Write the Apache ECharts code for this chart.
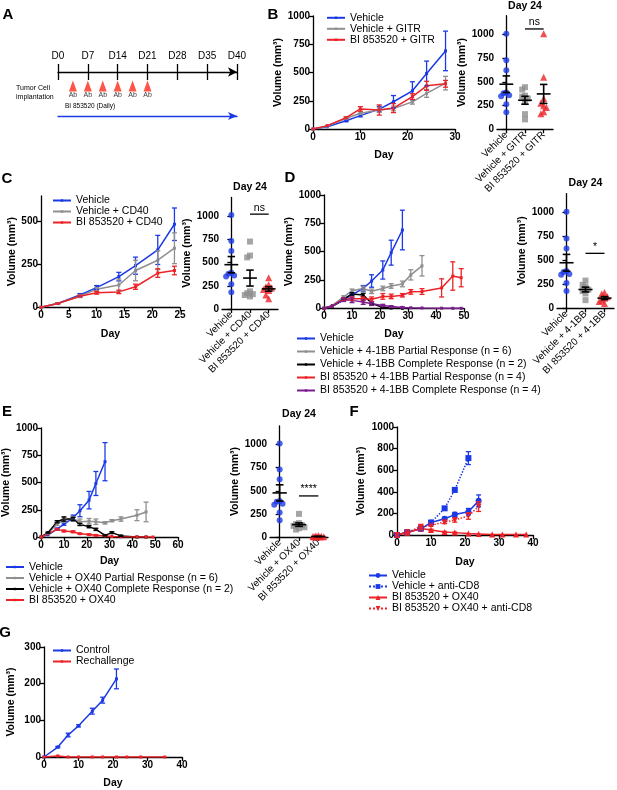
<!DOCTYPE html>
<html>
<head>
<meta charset="utf-8">
<script src="https://cdn.jsdelivr.net/npm/echarts@6/dist/echarts.min.js"></script>
<style>
html, body { margin: 0; padding: 0; background: #fff; }
#chart { width: 617px; height: 790px; }
</style>
</head>
<body>
<div id="chart"></div>
<script>
// ---------- data ----------
// A: schedule
var aTickDays = [0, 7, 14, 21, 28, 35, 42];
var aTickLabels = ['D0', 'D7', 'D14', 'D21', 'D28', 'D35', 'D40'];
var abDays = [3.5, 7, 10.5, 14, 17.5, 21];

// shared vehicle group
var vehDays = [0, 3, 7, 10, 14, 17, 21, 24, 28];
var vehVol  = [0, 20, 73, 118, 176, 241, 338, 491, 691];
var vehErr  = [0, 3, 8, 10, 25, 55, 80, 110, 175];

// B
var gitrVol = [0, 25, 95, 140, 168, 182, 240, 315, 406];
var gitrErr = [0, 3, 8, 12, 20, 20, 20, 35, 60];
var biGitrVol = [0, 30, 100, 178, 168, 185, 287, 382, 400];
var biGitrErr = [0, 3, 8, 20, 45, 40, 25, 40, 30];

// C
var cDays = [0, 3, 7, 10, 14, 17, 21, 24];
var cVehVol = [0, 22, 72, 115, 179, 243, 335, 485];
var cVehErr = [0, 3, 8, 12, 25, 50, 85, 95];
var cd40Vol = [0, 22, 65, 105, 130, 215, 275, 345];
var cd40Err = [0, 3, 8, 10, 35, 60, 55, 90];
var biCd40Vol = [0, 22, 65, 85, 90, 120, 200, 215];
var biCd40Err = [0, 3, 5, 8, 10, 15, 25, 25];

// D
var dGrayDays = [0, 3, 7, 10, 14, 17, 21, 24, 28, 31, 35];
var dGrayVol  = [0, 25, 100, 155, 175, 150, 175, 197, 215, 295, 375];
var dGrayErr  = [0, 3, 10, 15, 20, 20, 20, 20, 25, 45, 90];
var dBlackDays = [0, 3, 7, 10, 14, 17, 21, 24, 28];
var dBlackVol  = [0, 20, 80, 127, 118, 44, 6, 2, 0];
var dBlackErr  = [0, 2, 8, 10, 15, 15, 5, 0, 0];
var dBiDays = [0, 3, 7, 10, 14, 17, 21, 24, 28, 31, 35, 42, 46, 49];
var dRedVol = [0, 20, 80, 85, 85, 80, 105, 105, 115, 145, 148, 180, 285, 270];
var dRedErr = [0, 3, 10, 15, 15, 20, 25, 20, 15, 20, 25, 80, 125, 80];
var dPurVol = [0, 20, 75, 70, 55, 40, 25, 15, 8, 5, 3, 1, 0, 0];
var dPurErr = [0, 3, 15, 20, 20, 15, 10, 8, 5, 3, 2, 1, 0, 0];

// E
var eGrayDays = [0, 3, 7, 10, 14, 17, 21, 24, 28, 31, 35, 42, 46];
var eGrayVol  = [0, 35, 120, 155, 165, 140, 145, 140, 130, 150, 165, 200, 230];
var eGrayErr  = [0, 5, 15, 20, 20, 25, 25, 25, 10, 10, 20, 50, 90];
var eBlackVol = [0, 40, 140, 165, 165, 115, 95, 70, 15, 40, 10, 0, 0];
var eBlackErr = [0, 5, 10, 20, 15, 10, 10, 10, 5, 8, 5, 0, 0];
var eRedDays = [0, 3, 7, 10, 14, 17, 21, 24, 28, 31, 35, 42, 46, 49];
var eRedVol  = [0, 30, 70, 55, 48, 30, 22, 15, 10, 5, 3, 1, 0, 0];
var eRedErr  = [0, 3, 8, 8, 8, 5, 5, 5, 3, 2, 2, 1, 0, 0];

// F
var fVehDays = [0, 3, 7, 10, 14, 17, 21, 24];
var fVehVol  = [0, 28, 56, 115, 150, 189, 216, 316];
var fVehErr  = [0, 5, 8, 10, 15, 20, 30, 55];
var fCd8Days = [0, 3, 7, 10, 14, 17, 21];
var fCd8Vol  = [0, 25, 60, 115, 247, 418, 712];
var fCd8Err  = [0, 5, 8, 10, 15, 20, 60];
var fBiDays = [0, 3, 7, 10, 14, 17, 21, 24, 28, 31, 35, 38];
var fBiVol  = [0, 20, 60, 46, 28, 22, 14, 10, 5, 5, 5, 5];
var fBiErr  = [0, 5, 8, 8, 5, 5, 3, 3, 2, 2, 2, 2];
var fBiCd8Days = [0, 3, 7, 10, 14, 17, 21, 24];
var fBiCd8Vol  = [0, 25, 77, 90, 120, 139, 176, 263];
var fBiCd8Err  = [0, 5, 10, 10, 15, 20, 30, 45];

// G
var gCtrlDays = [0, 4, 7, 10, 14, 17, 21];
var gCtrlVol  = [0, 27, 60, 85, 125, 155, 213];
var gCtrlErr  = [0, 2, 5, 3, 8, 8, 27];
var gReDays = [0, 4, 7, 10, 14, 17, 21, 24, 28, 35];
var gReVol  = [0, 3, 0, 0, 0, 0, 0, 0, 0, 0];
var gReErr  = [0, 1, 0, 0, 0, 0, 0, 0, 0, 0];

// Day 24 individual tumours
var day24Veh   = [1010, 730, 625, 390, 380, 360, 350, 265, 180];
var day24Gitr  = [445, 420, 355, 345, 325, 300, 160, 105];
var day24BiGitr = [1010, 550, 325, 275, 250, 230, 185, 165];
var day24Cd40  = [725, 575, 555, 190, 170, 160, 150, 135];
var day24BiCd40 = [335, 260, 240, 225, 210, 200, 150, 110];
var day24_41bb = [290, 245, 225, 195, 180, 155, 85];
var day24Bi41bb = [165, 150, 120, 105, 85, 70, 50];
var day24Ox40  = [250, 150, 140, 130, 120, 105, 95, 80];
var day24BiOx40 = [15, 10, 8, 5, 3, 2, 0, 0];

var tick1000 = [0, 250, 500, 750, 1000];
var tick500 = [0, 250, 500];
var tickF = [0, 200, 400, 600, 800, 1000];
var tickG = [0, 100, 200, 300];

// ---------- helpers ----------
var FONT = '"Liberation Sans", Arial, sans-serif';
var BLUE = '#1b3ae6', GRAY = '#8f8f8f', RED = '#ec2227', BLACK = '#000000', PURPLE = '#7a1d8e';

var grids = [], xAxes = [], yAxes = [], series = [], legends = [], graphics = [];
var axLine = { show: true, lineStyle: { color: '#000', width: 1.3 } };
var axTick = { show: true, length: 4, lineStyle: { color: '#000', width: 1.3 } };
var numLabel = { color: '#000', fontSize: 10, fontWeight: 'bold', fontFamily: FONT, margin: 3,
  formatter: function (v) { return String(v); } };
var nameStyle = { color: '#000', fontSize: 10.5, fontWeight: 'bold', fontFamily: FONT };

function ext(a, b) { return Object.assign({}, a, b); }

function volAxis(gi, max, ticks, gap) {
  return {
    gridIndex: gi, type: 'value', min: 0, max: max,
    name: 'Volume (mm³)', nameLocation: 'middle', nameGap: gap, nameTextStyle: nameStyle,
    axisLine: axLine, axisTick: ext(axTick, { customValues: ticks }),
    axisLabel: ext(numLabel, { customValues: ticks }), splitLine: { show: false }
  };
}

function linePanel(b) {
  var gi = grids.length;
  grids.push({ left: b.left, top: b.top, width: b.width, height: b.height });
  xAxes.push({
    gridIndex: gi, type: 'value', min: 0, max: b.xMax, interval: b.xStep,
    name: 'Day', nameLocation: 'middle', nameGap: b.xGap, nameTextStyle: nameStyle,
    axisLine: axLine, axisTick: axTick, axisLabel: numLabel, splitLine: { show: false }
  });
  yAxes.push(volAxis(gi, b.yMax, b.yTicks, b.yGap));
  return { x: xAxes.length - 1, y: yAxes.length - 1 };
}

function errSeries(ax, days, vals, errs, color) {
  return {
    type: 'custom', xAxisIndex: ax.x, yAxisIndex: ax.y, silent: true, z: 3,
    data: days.map(function (d, i) { return [d, Math.max(0, vals[i] - errs[i]), vals[i] + errs[i]]; }),
    renderItem: function (p, api) {
      var lo = api.coord([api.value(0), api.value(1)]);
      var hi = api.coord([api.value(0), api.value(2)]);
      if (lo[1] - hi[1] < 1) return;
      var w = 2.5, st = { stroke: color, lineWidth: 1.3 };
      return { type: 'group', children: [
        { type: 'line', shape: { x1: lo[0], y1: lo[1], x2: hi[0], y2: hi[1] }, style: st },
        { type: 'line', shape: { x1: lo[0] - w, y1: lo[1], x2: lo[0] + w, y2: lo[1] }, style: st },
        { type: 'line', shape: { x1: hi[0] - w, y1: hi[1], x2: hi[0] + w, y2: hi[1] }, style: st }
      ] };
    }
  };
}

function addLine(ax, key, name, days, vals, errs, st) {
  series.push({
    type: 'line', name: key + '|' + name, xAxisIndex: ax.x, yAxisIndex: ax.y, z: 2,
    data: days.map(function (d, i) { return [d, vals[i]]; }),
    symbol: st.symbol || 'rect', symbolSize: st.size || 3, symbolRotate: st.rotate || 0,
    showAllSymbol: true,
    lineStyle: { color: st.color, width: 1.5, type: st.dash || 'solid' },
    itemStyle: { color: st.color }
  });
  series.push(errSeries(ax, days, vals, errs, st.color));
}

function addLegend(key, names, left, top, lh, iconH) {
  legends.push({
    data: names.map(function (n) { return key + '|' + n; }),
    orient: 'vertical', left: left, top: top, padding: 0, itemGap: 0,
    itemWidth: 18, itemHeight: iconH || 3, selectedMode: false,
    textStyle: { fontSize: 10.5, fontFamily: FONT, color: '#000', lineHeight: lh },
    formatter: function (n) { return n.split('|')[1]; }
  });
}

function mean(a) { return a.reduce(function (s, v) { return s + v; }, 0) / a.length; }
function sem(a) {
  var m = mean(a);
  var sd = Math.sqrt(a.reduce(function (s, v) { return s + (v - m) * (v - m); }, 0) / (a.length - 1));
  return sd / Math.sqrt(a.length);
}
function swarm(vals) {
  var offs = [0, -0.15, 0.15, -0.28, 0.28, -0.08, 0.08, -0.22, 0.22];
  var placed = [];
  return vals.map(function (v) {
    var near = placed.filter(function (p) { return Math.abs(p.v - v) < 55; }).map(function (p) { return p.o; });
    var o = offs.find(function (c) { return near.indexOf(c) < 0; });
    if (o === undefined) o = 0;
    placed.push({ v: v, o: o });
    return o;
  });
}

function dotPanel(b, cats, groups, sig) {
  var gi = grids.length;
  grids.push({ left: b.left, top: b.top, width: b.width, height: b.height });
  xAxes.push({
    gridIndex: gi, type: 'category', data: cats,
    axisLine: axLine, axisTick: ext(axTick, { alignWithLabel: true }),
    axisLabel: { rotate: 45, interval: 0, color: '#000', fontSize: 10, fontFamily: FONT, margin: 4 }
  });
  xAxes.push({ gridIndex: gi, type: 'value', min: -0.5, max: cats.length - 0.5, show: false });
  var xv = xAxes.length - 1;
  yAxes.push(volAxis(gi, 1200, tick1000, b.yGap));
  var yi = yAxes.length - 1;
  groups.forEach(function (g, ci) {
    var offs = swarm(g.vals);
    series.push({
      type: 'scatter', xAxisIndex: xv, yAxisIndex: yi, z: 2,
      symbol: g.symbol, symbolSize: g.size, itemStyle: { color: g.color },
      data: g.vals.map(function (v, k) { return [ci + offs[k], v]; })
    });
  });
  series.push({
    type: 'custom', xAxisIndex: xv, yAxisIndex: yi, z: 4, silent: true,
    data: groups.map(function (g, ci) { var m = mean(g.vals), s = sem(g.vals); return [ci, m, m - s, m + s]; }),
    renderItem: function (p, api) {
      var x = api.value(0);
      var c = api.coord([x, api.value(1)]), lo = api.coord([x, api.value(2)]), hi = api.coord([x, api.value(3)]);
      var half = api.size([0.37, 0])[0], cap = api.size([0.2, 0])[0];
      var st = { stroke: '#000', lineWidth: 1.6 };
      return { type: 'group', children: [
        { type: 'line', shape: { x1: c[0] - half, y1: c[1], x2: c[0] + half, y2: c[1] }, style: st },
        { type: 'line', shape: { x1: lo[0], y1: lo[1], x2: hi[0], y2: hi[1] }, style: st },
        { type: 'line', shape: { x1: lo[0] - cap, y1: lo[1], x2: lo[0] + cap, y2: lo[1] }, style: st },
        { type: 'line', shape: { x1: hi[0] - cap, y1: hi[1], x2: hi[0] + cap, y2: hi[1] }, style: st }
      ] };
    }
  });
  series.push({
    type: 'custom', xAxisIndex: xv, yAxisIndex: yi, z: 4, silent: true,
    data: [[1, 2, b.sigY]],
    renderItem: function (p, api) {
      var a = api.coord([api.value(0), api.value(2)]), e = api.coord([api.value(1), api.value(2)]);
      return { type: 'group', children: [
        { type: 'line', shape: { x1: a[0], y1: a[1], x2: e[0], y2: e[1] }, style: { stroke: '#000', lineWidth: 1.3 } },
        { type: 'text', x: (a[0] + e[0]) / 2, y: a[1] - 1,
          style: { text: sig, textAlign: 'center', textVerticalAlign: 'bottom', fontSize: 10.5, fontFamily: FONT, fill: '#000' } }
      ] };
    }
  });
  graphics.push({ type: 'text', x: b.left + b.width / 2, y: b.titleY,
    style: { text: 'Day 24', textAlign: 'center', textVerticalAlign: 'middle', fontSize: 10.5, fontWeight: 'bold', fontFamily: FONT, fill: '#000' } });
}

// ---------- panel A: schedule ----------
var giA = grids.length;
grids.push({ left: 58, top: 72, width: 179, height: 40 });
xAxes.push({
  gridIndex: giA, type: 'value', position: 'top', min: 0, max: 42,
  axisLine: { show: true, symbol: ['none', 'arrow'], symbolSize: [7, 9], lineStyle: { color: '#000', width: 1.3 } },
  axisTick: { show: true, inside: true, length: 8, customValues: aTickDays, lineStyle: { color: '#000', width: 1.3 } },
  axisLabel: { customValues: aTickDays, formatter: function (v) { return aTickLabels[aTickDays.indexOf(v)]; },
    color: '#000', fontSize: 10, fontFamily: FONT, margin: 11 },
  splitLine: { show: false }
});
var axA = xAxes.length - 1;
xAxes.push({
  gridIndex: giA, type: 'value', position: 'top', min: 0, max: 42,
  axisLine: { show: false },
  axisTick: { show: true, inside: false, length: 8, customValues: aTickDays, lineStyle: { color: '#000', width: 1.3 } },
  axisLabel: { show: false }, splitLine: { show: false }
});
yAxes.push({ gridIndex: giA, type: 'value', min: 0, max: 40, inverse: true, show: false });
var ayA = yAxes.length - 1;
series.push({
  type: 'scatter', xAxisIndex: axA, yAxisIndex: ayA, symbol: 'triangle', symbolSize: [8, 11],
  itemStyle: { color: '#ff2a1a' },
  label: { show: true, position: 'bottom', distance: 0, formatter: 'Ab', fontSize: 7, fontFamily: FONT, color: '#000' },
  data: abDays.map(function (d) { return [d, 14]; })
});
var giA2 = grids.length;
grids.push({ left: 58, top: 115, width: 179, height: 1 });
xAxes.push({
  gridIndex: giA2, type: 'value', position: 'top', min: 0, max: 42,
  axisLine: { show: true, symbol: ['none', 'arrow'], symbolSize: [6, 9], lineStyle: { color: '#1b3ae6', width: 1.3 } },
  axisTick: { show: false }, axisLabel: { show: false }, splitLine: { show: false }
});
yAxes.push({ gridIndex: giA2, type: 'value', show: false });
graphics.push({ type: 'text', x: 16, y: 84,
  style: { text: 'Tumor Cell\nimplantation', fontSize: 7, lineHeight: 9, fontFamily: FONT, fill: '#000' } });
graphics.push({ type: 'text', x: 65, y: 103,
  style: { text: 'BI 853520 (Daily)', fontSize: 6.5, fontFamily: FONT, fill: '#000' } });

// ---------- panel B ----------
var axB = linePanel({ left: 313, top: 16, width: 142, height: 113, xMax: 30, xStep: 10, yMax: 1000, yTicks: tick1000, yGap: 27, xGap: 21 });
addLine(axB, 'B', 'Vehicle', vehDays, vehVol, vehErr, { color: BLUE });
addLine(axB, 'B', 'Vehicle + GITR', vehDays, gitrVol, gitrErr, { color: GRAY });
addLine(axB, 'B', 'BI 853520 + GITR', vehDays, biGitrVol, biGitrErr, { color: RED });
addLegend('B', ['Vehicle', 'Vehicle + GITR', 'BI 853520 + GITR'], 326, 12.3, 10);
dotPanel({ left: 497, top: 15.7, width: 56, height: 113.6, yGap: 25, sigY: 1060, titleY: 6 },
  ['Vehicle', 'Vehicle + GITR', 'BI 853520 + GITR'],
  [{ vals: day24Veh, color: BLUE, symbol: 'circle', size: 6 },
   { vals: day24Gitr, color: GRAY, symbol: 'rect', size: 6 },
   { vals: day24BiGitr, color: RED, symbol: 'triangle', size: 7 }], 'ns');

// ---------- panel C ----------
var axC = linePanel({ left: 41, top: 196, width: 139, height: 111.3, xMax: 25, xStep: 5, yMax: 650, yTicks: tick500, yGap: 23, xGap: 21 });
addLine(axC, 'C', 'Vehicle', cDays, cVehVol, cVehErr, { color: BLUE });
addLine(axC, 'C', 'Vehicle + CD40', cDays, cd40Vol, cd40Err, { color: GRAY });
addLine(axC, 'C', 'BI 853520 + CD40', cDays, biCd40Vol, biCd40Err, { color: RED });
addLegend('C', ['Vehicle', 'Vehicle + CD40', 'BI 853520 + CD40'], 52, 195, 9.7);
dotPanel({ left: 222, top: 197.4, width: 56, height: 111.6, yGap: 25, sigY: 1020, titleY: 187 },
  ['Vehicle', 'Vehicle + CD40', 'BI 853520 + CD40'],
  [{ vals: day24Veh, color: BLUE, symbol: 'circle', size: 6 },
   { vals: day24Cd40, color: GRAY, symbol: 'rect', size: 6 },
   { vals: day24BiCd40, color: RED, symbol: 'triangle', size: 7 }], 'ns');

// ---------- panel D ----------
var axD = linePanel({ left: 324, top: 195, width: 140, height: 113.3, xMax: 50, xStep: 10, yMax: 1000, yTicks: tick1000, yGap: 24, xGap: 20 });
addLine(axD, 'D', 'Vehicle', vehDays, vehVol, vehErr, { color: BLUE });
addLine(axD, 'D', 'Vehicle + 4-1BB Partial Response (n = 6)', dGrayDays, dGrayVol, dGrayErr, { color: GRAY });
addLine(axD, 'D', 'Vehicle + 4-1BB Complete Response (n = 2)', dBlackDays, dBlackVol, dBlackErr, { color: BLACK });
addLine(axD, 'D', 'BI 853520 + 4-1BB Partial Response (n = 4)', dBiDays, dRedVol, dRedErr, { color: RED });
addLine(axD, 'D', 'BI 853520 + 4-1BB Complete Response (n = 4)', dBiDays, dPurVol, dPurErr, { color: PURPLE });
addLegend('D', ['Vehicle', 'Vehicle + 4-1BB Partial Response (n = 6)', 'Vehicle + 4-1BB Complete Response (n = 2)',
  'BI 853520 + 4-1BB Partial Response (n = 4)', 'BI 853520 + 4-1BB Complete Response (n = 4)'], 296, 332, 13);
dotPanel({ left: 557, top: 193.6, width: 57, height: 114.7, yGap: 22, sigY: 575, titleY: 183 },
  ['Vehicle', 'Vehicle + 4-1BB', 'BI 853520 + 4-1BB'],
  [{ vals: day24Veh, color: BLUE, symbol: 'circle', size: 6 },
   { vals: day24_41bb, color: GRAY, symbol: 'rect', size: 6 },
   { vals: day24Bi41bb, color: RED, symbol: 'triangle', size: 7 }], '*');

// ---------- panel E ----------
var axE = linePanel({ left: 41, top: 428, width: 137, height: 109, xMax: 60, xStep: 10, yMax: 1000, yTicks: tick1000, yGap: 24, xGap: 19 });
addLine(axE, 'E', 'Vehicle', vehDays, vehVol, vehErr, { color: BLUE });
addLine(axE, 'E', 'Vehicle + OX40 Partial Response (n = 6)', eGrayDays, eGrayVol, eGrayErr, { color: GRAY });
addLine(axE, 'E', 'Vehicle + OX40 Complete Response (n = 2)', eGrayDays, eBlackVol, eBlackErr, { color: BLACK });
addLine(axE, 'E', 'BI 853520 + OX40', eRedDays, eRedVol, eRedErr, { color: RED });
addLegend('E', ['Vehicle', 'Vehicle + OX40 Partial Response (n = 6)', 'Vehicle + OX40 Complete Response (n = 2)', 'BI 853520 + OX40'], 5, 561.5, 10);
dotPanel({ left: 270, top: 426, width: 58, height: 111, yGap: 26, sigY: 444, titleY: 414 },
  ['Vehicle', 'Vehicle + OX40', 'BI 853520 + OX40'],
  [{ vals: day24Veh, color: BLUE, symbol: 'circle', size: 6 },
   { vals: day24Ox40, color: GRAY, symbol: 'rect', size: 6 },
   { vals: day24BiOx40, color: RED, symbol: 'triangle', size: 7 }], '****');

// ---------- panel F ----------
var axF = linePanel({ left: 397, top: 427, width: 136, height: 108, xMax: 40, xStep: 10, yMax: 1000, yTicks: tickF, yGap: 30, xGap: 22 });
addLine(axF, 'F', 'Vehicle', fVehDays, fVehVol, fVehErr, { color: BLUE, symbol: 'circle', size: 6 });
addLine(axF, 'F', 'Vehicle + anti-CD8', fCd8Days, fCd8Vol, fCd8Err, { color: BLUE, symbol: 'rect', size: 6, dash: 'dotted' });
addLine(axF, 'F', 'BI 853520 + OX40', fBiDays, fBiVol, fBiErr, { color: RED, symbol: 'triangle', size: 6 });
addLine(axF, 'F', 'BI 853520 + OX40 + anti-CD8', fBiCd8Days, fBiCd8Vol, fBiCd8Err, { color: RED, symbol: 'triangle', size: 6, rotate: 180, dash: 'dotted' });
addLegend('F', ['Vehicle', 'Vehicle + anti-CD8', 'BI 853520 + OX40', 'BI 853520 + OX40 + anti-CD8'], 368, 570, 10.3, 6);

// ---------- panel G ----------
var axG = linePanel({ left: 44, top: 647, width: 138, height: 110, xMax: 40, xStep: 10, yMax: 300, yTicks: tickG, yGap: 27, xGap: 21 });
addLine(axG, 'G', 'Control', gCtrlDays, gCtrlVol, gCtrlErr, { color: BLUE });
addLine(axG, 'G', 'Rechallenge', gReDays, gReVol, gReErr, { color: RED });
addLegend('G', ['Control', 'Rechallenge'], 52, 645, 10);

// ---------- panel letters ----------
[['A', 8, 15], ['B', 273, 15], ['C', 7, 179], ['D', 290, 178], ['E', 7, 412], ['F', 354, 412], ['G', 5, 633]].forEach(function (l) {
  graphics.push({ type: 'text', x: l[1], y: l[2],
    style: { text: l[0], textAlign: 'center', textVerticalAlign: 'middle', fontSize: 15, fontWeight: 'bold', fontFamily: FONT, fill: '#000' } });
});

var chart = echarts.init(document.getElementById('chart'), null, { renderer: 'canvas' });
chart.setOption({
  animation: false,
  backgroundColor: '#fff',
  textStyle: { fontFamily: FONT },
  grid: grids, xAxis: xAxes, yAxis: yAxes, series: series, legend: legends,
  graphic: graphics
});
</script>
</body>
</html>
